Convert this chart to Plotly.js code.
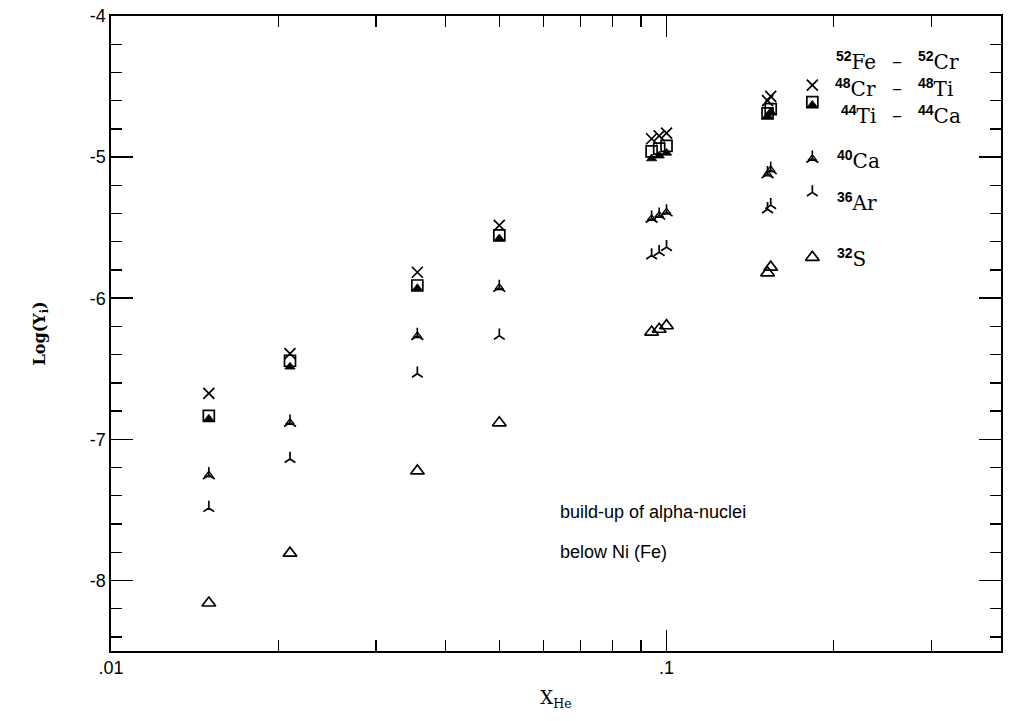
<!DOCTYPE html>
<html>
<head>
<meta charset="utf-8">
<script src="https://cdn.plot.ly/plotly-3.0.1.min.js"></script>
<style>
  html, body { margin: 0; padding: 0; background: #fff; }
  #chart { width: 1013px; height: 721px; }
</style>
</head>
<body>
<div id="chart"></div>
<script>
// Helium mass fraction of each burning run
const xHe = [0.015, 0.021, 0.0356, 0.05, 0.094, 0.097, 0.1, 0.152, 0.154];

// Log abundances of the alpha-nuclei (and their decay daughters)
const fe52 = [-6.675, -6.393, -5.816, -5.484, -4.87, -4.85, -4.83, -4.60, -4.57];
const cr48 = [-6.834, -6.443, -5.910, -5.555, -4.96, -4.94, -4.92, -4.69, -4.66];
const ti44 = [-6.855, -6.486, -5.930, -5.577, -5.01, -4.99, -4.97, -4.71, -4.68];
const ca40 = [-7.253, -6.881, -6.266, -5.925, -5.435, -5.413, -5.39, -5.12, -5.09];
const ar36 = [-7.487, -7.139, -6.535, -6.266, -5.697, -5.674, -5.638, -5.37, -5.34];
const s32  = [-8.160, -7.807, -7.224, -6.883, -6.24, -6.22, -6.195, -5.82, -5.78];

// Key glyph placement (x in X_He, one y per species)
const keyX = 0.183;
const keyY = [-4.49, -4.61, -4.63, -5.01, -5.25, -5.71];

// Key labels: [mass number, element] on the left, optional daughter on the right
const keyLabels = [
  [['52', 'Fe'], ['52', 'Cr']],
  [['48', 'Cr'], ['48', 'Ti']],
  [['44', 'Ti'], ['44', 'Ca']],
  [['40', 'Ca'], null],
  [['36', 'Ar'], null],
  [['32', 'S'], null]
];

// Axis ticks
const xTickVals = [0.01, 0.1];
const xTickText = ['.01', '.1'];
const xMinorVals = [0.02, 0.03, 0.04, 0.05, 0.06, 0.07, 0.08, 0.09, 0.2, 0.3];
const yTickVals = [-8, -7, -6, -5, -4];
const yTickText = ['-8', '-7', '-6', '-5', '-4'];

function markerTrace(ys, symbol, size, key, lineWidth) {
  return {
    type: 'scatter', mode: 'markers',
    x: xHe.concat([keyX]), y: ys.concat([key]),
    showlegend: false, hoverinfo: 'x+y',
    marker: {
      symbol: symbol, size: size,
      color: '#000',
      line: { color: '#000', width: lineWidth }
    },
    cliponaxis: false
  };
}

const traces = [
  markerTrace(s32, 'triangle-up-open', 12, keyY[5], 1.7),
  markerTrace(ar36, 'y-up', 9, keyY[4], 1.7),
  markerTrace(ca40, 'y-up', 10, keyY[3], 1.6),
  markerTrace(ca40, 'triangle-up-open', 7.5, keyY[3], 1.3),
  markerTrace(ti44, 'triangle-up', 9, keyY[2], 0.8),
  markerTrace(cr48, 'square-open', 11, keyY[1], 1.7),
  markerTrace(fe52, 'x-thin-open', 11, keyY[0], 1.7)
];

// pixel helpers for the plot frame (l=111, t=16, width 890, height 635)
const PL = 111, PT = 16, PW = 890, PH = 635;
const px = v => (v - PL) / PW;
const py = v => 1 - (v - PT) / PH;

const serif = 'DejaVu Serif, Liberation Serif, serif';
const sans = 'Liberation Sans, Arial, sans-serif';

const nuc = p => '<sup><span style="font-family:Liberation Sans, Arial, sans-serif;font-weight:bold">' +
  p[0] + '</span></sup>' + p[1];

const lineY = [61, 88, 114.5, 160, 202, 257.5];
const annotations = [];
keyLabels.forEach((pair, i) => {
  const [left, right] = pair;
  const row = [];
  if (right) {
    row.push({ text: nuc(left), x: px(878), xanchor: 'right' });
    row.push({ text: '–', x: px(897), xanchor: 'center' });
    row.push({ text: nuc(right), x: px(916), xanchor: 'left' });
  } else {
    row.push({ text: nuc(left), x: px(835), xanchor: 'left' });
  }
  row.forEach(a => {
    a.y = py(lineY[i]);
    a.yanchor = 'middle';
    a.yshift = 0;
    annotations.push(a);
  });
});
annotations.forEach(a => {
  a.xref = 'paper'; a.yref = 'paper'; a.showarrow = false;
  a.font = { family: serif, size: 20, color: '#000' };
});
annotations.push(
  { text: 'build-up of alpha-nuclei', x: px(558), y: py(512) },
  { text: 'below Ni (Fe)', x: px(558), y: py(552) }
);
annotations.slice(-2).forEach(a => {
  a.xref = 'paper'; a.yref = 'paper'; a.showarrow = false;
  a.xanchor = 'left'; a.yanchor = 'middle';
  a.font = { family: sans, size: 18, color: '#000' };
});

const layout = {
  width: 1013, height: 721,
  margin: { l: PL, r: 1013 - PL - PW, t: PT, b: 721 - PT - PH },
  paper_bgcolor: '#fff', plot_bgcolor: '#fff',
  showlegend: false,
  xaxis: {
    type: 'log',
    range: [Math.log10(0.01), Math.log10(0.4)],
    tickmode: 'array', tickvals: xTickVals, ticktext: xTickText,
    ticks: 'inside', ticklen: 21, tickwidth: 1.5, tickcolor: '#000',
    minor: { tickmode: 'array', tickvals: xMinorVals, ticks: 'inside', ticklen: 11, tickwidth: 1.3, tickcolor: '#000', showgrid: false },
    showgrid: false, zeroline: false,
    showline: true, linecolor: '#000', linewidth: 1.6, mirror: 'allticks',
    tickfont: { family: sans, size: 18, color: '#000' },
    title: { text: 'X<sub>He</sub>', font: { family: serif, size: 18, color: '#000' }, standoff: 14 }
  },
  yaxis: {
    range: [-8.5, -4],
    tickmode: 'array', tickvals: yTickVals, ticktext: yTickText,
    ticks: 'inside', ticklen: 22, tickwidth: 1.5, tickcolor: '#000',
    minor: { dtick: 0.2, ticks: 'inside', ticklen: 11, tickwidth: 1.3, tickcolor: '#000', showgrid: false },
    showgrid: false, zeroline: false,
    showline: true, linecolor: '#000', linewidth: 1.6, mirror: 'allticks',
    tickfont: { family: sans, size: 18, color: '#000' },
    title: { text: 'Log(Y<sub>i</sub>)', font: { family: serif, size: 16, weight: 'bold', color: '#000' }, standoff: 40 }
  },
  annotations: annotations
};

Plotly.newPlot('chart', traces, layout, { staticPlot: true, displayModeBar: false });
</script>
</body>
</html>
